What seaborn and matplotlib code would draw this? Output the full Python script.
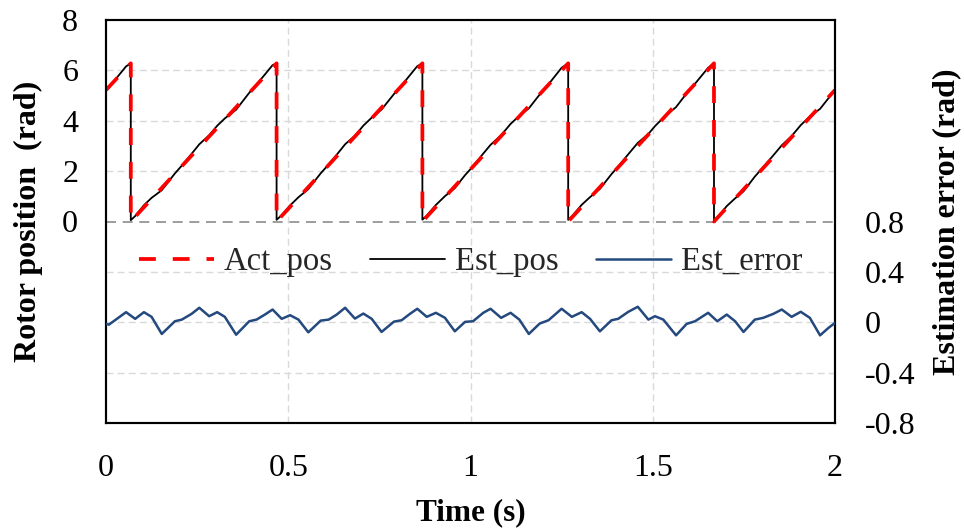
import numpy as np
import pandas as pd
import matplotlib
matplotlib.use("Agg")
import matplotlib.pyplot as plt
from matplotlib.lines import Line2D
import seaborn as sns

# Actual rotor position: corner points of the sawtooth (s, rad)
act_t = [0.0, 0.068, 0.068, 0.468, 0.468, 0.868, 0.868, 1.268, 1.268, 1.668, 1.668, 2.0]
act_v = [5.22, 6.28, 0.0, 6.28, 0.0, 6.28, 0.0, 6.28, 0.0, 6.28, 0.0, 5.22]

# Estimation error samples (s, rad)
err_t = [0.0, 0.008, 0.055, 0.080, 0.104, 0.125, 0.153, 0.189, 0.208, 0.235,
         0.256, 0.283, 0.305, 0.326, 0.357, 0.393, 0.413, 0.436, 0.457, 0.482,
         0.505, 0.528, 0.555, 0.589, 0.611, 0.633, 0.656, 0.683, 0.706, 0.729,
         0.756, 0.790, 0.811, 0.834, 0.854, 0.880, 0.905, 0.930, 0.957, 0.985,
         1.007, 1.035, 1.055, 1.084, 1.110, 1.134, 1.160, 1.190, 1.214, 1.250,
         1.278, 1.305, 1.328, 1.355, 1.387, 1.405, 1.433, 1.459, 1.488, 1.506,
         1.529, 1.564, 1.593, 1.616, 1.652, 1.677, 1.703, 1.726, 1.749, 1.780,
         1.803, 1.831, 1.854, 1.881, 1.906, 1.931, 1.959, 1.982, 2.0]
err_v = [-0.013, -0.019, 0.080, 0.027, 0.080, 0.043, -0.093, 0.008, 0.021, 0.067,
         0.115, 0.048, 0.080, 0.043, -0.099, 0.008, 0.021, 0.061, 0.101, 0.027,
         0.056, 0.021, -0.080, 0.013, 0.021, 0.061, 0.115, 0.029, 0.069, 0.027,
         -0.077, 0.005, 0.016, 0.067, 0.107, 0.043, 0.075, 0.035, -0.072, 0.003,
         0.008, 0.075, 0.107, 0.035, 0.075, 0.021, -0.093, -0.010, 0.016, 0.107,
         0.043, 0.080, 0.027, -0.072, 0.016, 0.027, 0.083, 0.123, 0.021, 0.048,
         0.021, -0.104, -0.013, 0.008, 0.075, 0.008, 0.061, 0.008, -0.077, 0.021,
         0.035, 0.067, 0.101, 0.043, 0.083, 0.035, -0.104, -0.045, -0.005]

x_ticks = [0, 0.5, 1, 1.5, 2]
x_tick_labels = ["0", "0.5", "1", "1.5", "2"]
pos_ticks = [0, 2, 4, 6, 8]
err_ticks = [-0.8, -0.4, 0, 0.4, 0.8]
err_tick_labels = ["-0.8", "-0.4", "0", "0.4", "0.8"]

# Estimated position = actual ramp + estimation error, rebuilt segment by segment
est_t, est_v = [], []
e_t = np.array(err_t)
e_v = np.array(err_v)
for k in range(0, len(act_t), 2):
    t0, t1 = act_t[k], act_t[k + 1]
    v0, v1 = act_v[k], act_v[k + 1]
    inner = (e_t > t0) & (e_t < t1)
    ramp = np.interp(e_t[inner], [t0, t1], [v0, v1])
    est_t += [t0] + list(e_t[inner]) + [t1]
    est_v += [v0 + np.interp(t0, e_t, e_v)] + list(ramp + e_v[inner]) + [v1]

act_df = pd.DataFrame({"t": act_t, "v": act_v})
est_df = pd.DataFrame({"t": est_t, "v": est_v})
err_df = pd.DataFrame({"t": err_t, "v": err_v})

sns.set_theme(style="white")
plt.rcParams["font.family"] = ["Liberation Serif", "DejaVu Serif"]

fig = plt.figure(figsize=(9.64, 5.31), dpi=100)
ax = fig.add_axes([106 / 964, 1 - 423 / 531, 729 / 964, 403 / 531])
ax2 = ax.twinx()

red = "#FF0000"
blue = "#24497E"
grid_c = "#D9D9D9"

# grid
for y in [2, 4, 6]:
    ax.axhline(y, color=grid_c, lw=1.0, ls=(0, (5, 3)), zorder=0)
for y in [-0.4, 0, 0.4]:
    ax2.axhline(y, color=grid_c, lw=1.0, ls=(0, (5, 3)), zorder=0)
for x in [0.5, 1, 1.5]:
    ax.axvline(x, color=grid_c, lw=1.0, ls=(0, (5, 3)), zorder=0)
ax.axhline(0, color="#8C8C8C", lw=1.2, ls=(0, (6, 4)), zorder=0.5)

sns.lineplot(data=est_df, x="t", y="v", ax=ax, estimator=None, sort=False,
             color="black", lw=1.3, zorder=3)
sns.lineplot(data=act_df, x="t", y="v", ax=ax, estimator=None, sort=False,
             color=red, lw=2.7, zorder=4)
ax.lines[-1].set_dashes([4.5, 4.5])
sns.lineplot(data=err_df, x="t", y="v", ax=ax2, estimator=None, sort=False,
             color=blue, lw=1.8, zorder=3)
ax2.lines[-1].set_solid_joinstyle("round")

ax.set_xlim(0, 2)
ax.set_ylim(-8, 8)
ax2.set_ylim(-0.8, 2.4)
ax.set_xticks(x_ticks)
ax.set_xticklabels(x_tick_labels)
ax.set_yticks(pos_ticks)
ax.set_yticklabels([str(v) for v in pos_ticks])
ax2.set_yticks(err_ticks)
ax2.set_yticklabels(err_tick_labels)

tick_fs = 23
ax.tick_params(axis="both", length=0, labelsize=tick_fs, colors="black")
ax.tick_params(axis="y", pad=20)
ax.tick_params(axis="x", pad=22)
ax2.tick_params(axis="y", length=0, labelsize=tick_fs, pad=21.6, colors="black")
for lab in ax2.get_yticklabels():
    lab.set_horizontalalignment("left")

ax.set_xlabel("Time (s)", fontsize=22.5, fontweight="bold", color="black")
ax.xaxis.set_label_coords(0.5, -0.186)
ax.set_ylabel("Rotor position  (rad)", fontsize=23, fontweight="bold", color="black")
ax.yaxis.set_label_coords(-0.086, 0.5)
ax2.set_ylabel("Estimation error (rad)", fontsize=23, fontweight="bold",
               color="black", rotation=90)
ax2.yaxis.set_label_coords(1.134, 0.5)

for a in (ax, ax2):
    for s in a.spines.values():
        s.set_color("black")
        s.set_linewidth(1.5)

handles = [
    Line2D([], [], color=red, lw=2.7, dashes=[4.5, 4.5]),
    Line2D([], [], color="black", lw=1.3),
    Line2D([], [], color=blue, lw=1.8),
]
ax2.legend(handles, ["Act_pos", "Est_pos", "Est_error"], ncol=3, frameon=False,
           loc="center", bbox_to_anchor=(0.5, 0.40), fontsize=23.5,
           handlelength=2.3, handletextpad=0.3, columnspacing=1.15)

fig.savefig("out.png", dpi=100)
